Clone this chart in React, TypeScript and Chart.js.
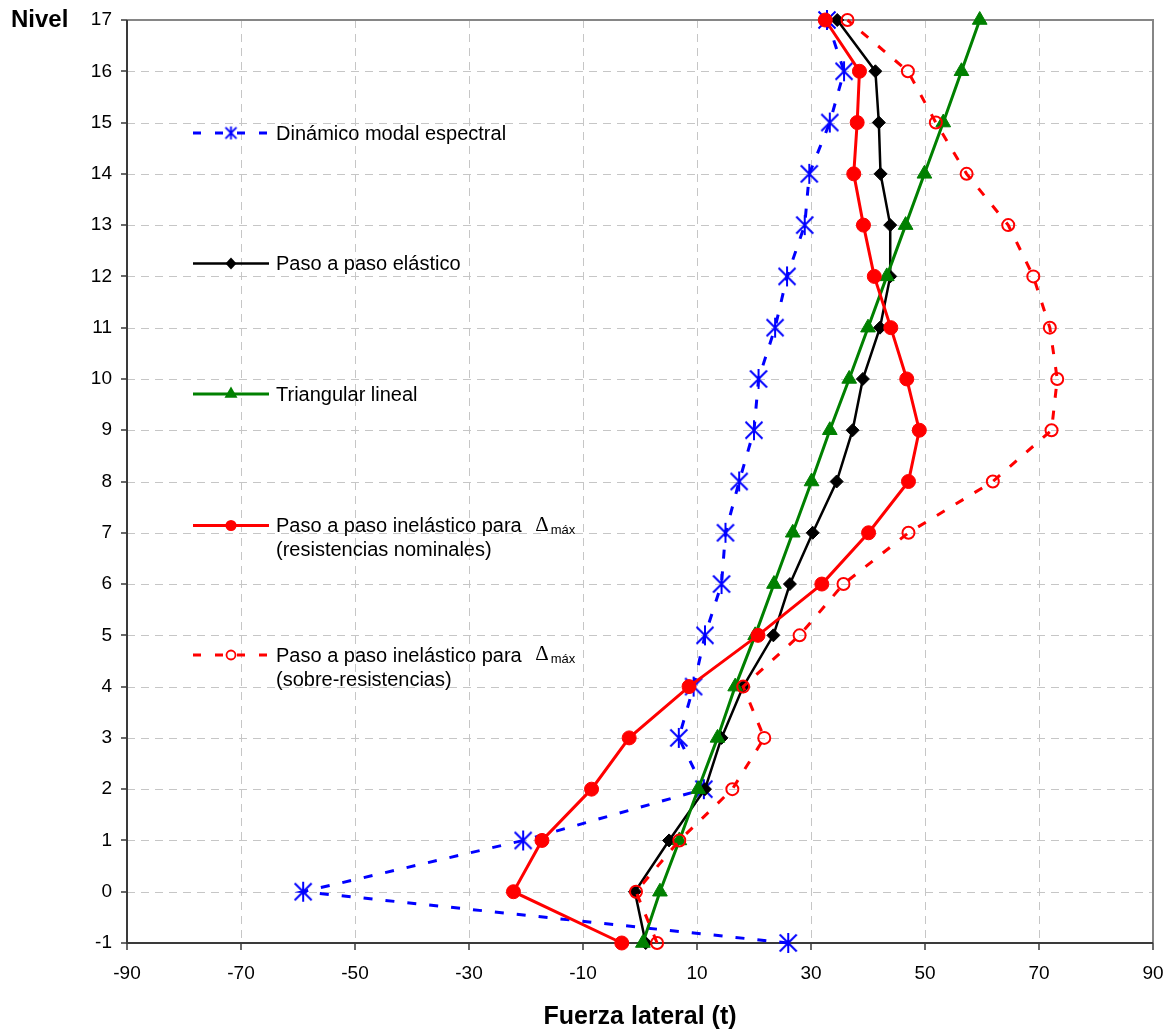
import React, { useEffect, useRef } from "react";
import { Chart, registerables } from "chart.js";

Chart.register(...registerables);

// ---- data ----
const levels = [-1, 0, 1, 2, 3, 4, 5, 6, 7, 8, 9, 10, 11, 12, 13, 14, 15, 16, 17];
const xTickValues = [-90, -70, -50, -30, -10, 10, 30, 50, 70, 90];

const dinamicoModal = [26, -59.1, -20.5, 11.2, 6.8, 9.4, 11.4, 14.3, 15, 17.4, 20, 20.8, 23.7, 25.8, 28.9, 29.7, 33.3, 35.8, 32.8];
const pasoElastico = [1.0, -0.9, 5.1, 11.4, 14.3, 18.1, 23.4, 26.3, 30.3, 34.5, 37.3, 39.1, 42.1, 43.9, 43.9, 42.2, 41.9, 41.3, 34.6];
const triangularLineal = [0.5, 3.5, 6.9, 10.2, 13.6, 16.7, 20.2, 23.5, 26.8, 30.1, 33.3, 36.7, 40.0, 43.3, 46.6, 49.9, 53.2, 56.4, 59.6];
const inelasticoNominal = [-3.2, -22.2, -17.2, -8.5, -1.9, 8.6, 20.7, 31.9, 40.1, 47.1, 49.0, 46.8, 44.0, 41.1, 39.2, 37.5, 38.1, 38.5, 32.5];
const inelasticoSobre = [3.0, -0.7, 6.9, 16.2, 21.8, 18.1, 28.0, 35.7, 47.1, 61.9, 72.2, 73.2, 71.9, 69.0, 64.6, 57.3, 51.9, 47.0, 36.4];

const seriesNames = [
  "Dinámico modal espectral",
  "Paso a paso elástico",
  "Triangular lineal",
  "Paso a paso inelástico para",
  "Paso a paso inelástico para",
];
const secondLines = ["", "", "", "(resistencias nominales)", "(sobre-resistencias)"];
const xTitle = "Fuerza lateral (t)";
const yTitle = "Nivel";

const SANS = "'Liberation Sans', Arial, sans-serif";
const SERIF = "'Liberation Serif', 'DejaVu Serif', serif";

function makeStar(size: number, lw: number): HTMLCanvasElement {
  const c = document.createElement("canvas");
  const full = Math.ceil(size * 2 + 4);
  c.width = full;
  c.height = full;
  const g = c.getContext("2d")!;
  const m = full / 2;
  g.strokeStyle = "#0000ff";
  g.lineWidth = lw;
  g.beginPath();
  g.moveTo(m, m - size);
  g.lineTo(m, m + size);
  g.moveTo(m - size * 0.85, m - size * 0.85);
  g.lineTo(m + size * 0.85, m + size * 0.85);
  g.moveTo(m + size * 0.85, m - size * 0.85);
  g.lineTo(m - size * 0.85, m + size * 0.85);
  g.stroke();
  return c;
}

const mk = (vals: number[]) => levels.map((l, i) => ({ x: vals[i], y: l }));

const zeroPad = (s: any) => {
  s.paddingTop = 0;
  s.paddingBottom = 0;
  s.paddingLeft = 0;
  s.paddingRight = 0;
};

export default function App() {
  const ref = useRef<HTMLCanvasElement | null>(null);

  useEffect(() => {
    document.body.style.margin = "0";
    const canvas = ref.current!;
    const star = makeStar(10, 2);
    const starSmall = makeStar(6.5, 1.8);

    const decor = {
      id: "decor",
      beforeDatasetsDraw(chart: any) {
        const { ctx, chartArea } = chart;
        const { left, right, top, bottom } = chartArea;
        const xs = chart.scales.x;
        const ys = chart.scales.y;
        ctx.save();
        // dashed grid
        ctx.strokeStyle = "#c6c6c6";
        ctx.lineWidth = 1;
        ctx.setLineDash([8, 6]);
        ctx.beginPath();
        for (const v of xTickValues) {
          if (v === -90 || v === 90) continue;
          const px = Math.round(xs.getPixelForValue(v)) + 0.5;
          ctx.moveTo(px, top);
          ctx.lineTo(px, bottom);
        }
        for (const l of levels) {
          if (l === -1 || l === 17) continue;
          const py = Math.round(ys.getPixelForValue(l)) + 0.5;
          ctx.moveTo(left, py);
          ctx.lineTo(right, py);
        }
        ctx.stroke();
        ctx.setLineDash([]);
        // top & right border
        ctx.strokeStyle = "#868686";
        ctx.lineWidth = 2;
        ctx.beginPath();
        ctx.moveTo(left, top);
        ctx.lineTo(right, top);
        ctx.lineTo(right, bottom);
        ctx.stroke();
        // axes
        ctx.strokeStyle = "#3a3a3a";
        ctx.lineWidth = 2;
        ctx.beginPath();
        ctx.moveTo(left, top);
        ctx.lineTo(left, bottom);
        ctx.lineTo(right, bottom);
        ctx.stroke();
        // tick marks
        ctx.lineWidth = 1.5;
        ctx.beginPath();
        for (const l of levels) {
          const py = Math.round(ys.getPixelForValue(l));
          ctx.moveTo(left - 6, py);
          ctx.lineTo(left, py);
        }
        for (const v of xTickValues) {
          const px = Math.round(xs.getPixelForValue(v));
          ctx.moveTo(px, bottom);
          ctx.lineTo(px, bottom + 7);
        }
        ctx.stroke();
        ctx.restore();
      },
      afterDraw(chart: any) {
        const { ctx, chartArea } = chart;
        ctx.save();
        // Titles
        ctx.fillStyle = "#000";
        ctx.font = `bold 24px ${SANS}`;
        ctx.textAlign = "left";
        ctx.textBaseline = "alphabetic";
        ctx.fillText(yTitle, 11, 27);
        ctx.font = `bold 25px ${SANS}`;
        ctx.textAlign = "center";
        ctx.fillText(xTitle, (chartArea.left + chartArea.right) / 2, 1024);

        // Legend
        const rows = [133, 263.5, 394, 525.5, 655];
        const x0 = 193, x1 = 269, xm = 231, tx = 276;
        const drawSample = (i: number, y: number) => {
          ctx.save();
          ctx.lineWidth = 3;
          if (i === 0) { ctx.strokeStyle = "#0000ff"; ctx.setLineDash([8, 14]); }
          if (i === 1) { ctx.strokeStyle = "#000"; ctx.lineWidth = 2.5; }
          if (i === 2) ctx.strokeStyle = "#008000";
          if (i === 3) ctx.strokeStyle = "#ff0000";
          if (i === 4) { ctx.strokeStyle = "#ff0000"; ctx.setLineDash([8, 14]); }
          ctx.beginPath();
          ctx.moveTo(x0, y);
          ctx.lineTo(x1, y);
          ctx.stroke();
          ctx.setLineDash([]);
          if (i === 0) {
            ctx.drawImage(starSmall, xm - starSmall.width / 2, y - starSmall.height / 2);
          } else if (i === 1) {
            ctx.fillStyle = "#000";
            ctx.beginPath();
            ctx.moveTo(xm - 5.5, y); ctx.lineTo(xm, y - 6); ctx.lineTo(xm + 5.5, y); ctx.lineTo(xm, y + 6);
            ctx.closePath(); ctx.fill();
          } else if (i === 2) {
            ctx.fillStyle = "#008000";
            const r = 7.5;
            ctx.beginPath();
            ctx.moveTo(xm, y - r); ctx.lineTo(xm + r * 0.866, y + r * 0.5); ctx.lineTo(xm - r * 0.866, y + r * 0.5);
            ctx.closePath(); ctx.fill();
          } else if (i === 3) {
            ctx.fillStyle = "#ff0000";
            ctx.beginPath(); ctx.arc(xm, y, 5.5, 0, Math.PI * 2); ctx.fill();
          } else {
            ctx.fillStyle = "#fff";
            ctx.strokeStyle = "#ff0000"; ctx.lineWidth = 1.8;
            ctx.beginPath(); ctx.arc(xm, y, 4.5, 0, Math.PI * 2); ctx.fill(); ctx.stroke();
          }
          ctx.restore();
        };
        for (let i = 0; i < seriesNames.length; i++) {
          const y = rows[i];
          drawSample(i, y);
          ctx.fillStyle = "#000";
          ctx.font = `20px ${SANS}`;
          ctx.textAlign = "left";
          ctx.textBaseline = "middle";
          ctx.fillText(seriesNames[i], tx, y + 1);
          if (i >= 3) {
            const w = ctx.measureText(seriesNames[i] + " ").width;
            const dx = tx + w + 8;
            ctx.font = `21px ${SERIF}`;
            ctx.textBaseline = "alphabetic";
            ctx.fillText("Δ", dx, y + 5);
            const dw = ctx.measureText("Δ").width;
            ctx.font = `13px ${SANS}`;
            ctx.fillText("máx", dx + dw + 2, y + 8);
            ctx.font = `20px ${SANS}`;
            ctx.textBaseline = "middle";
            ctx.fillText(secondLines[i], tx, y + 25);
          }
        }
        ctx.restore();
      },
    };

    const common = { showLine: true, clip: false as any, tension: 0 };

    const chart = new Chart(canvas, {
      type: "scatter",
      data: {
        datasets: [
          {
            ...common,
            label: seriesNames[0],
            data: mk(dinamicoModal),
            borderColor: "#0000ff",
            backgroundColor: "#0000ff",
            borderWidth: 3,
            borderDash: [9, 13],
            pointStyle: star as any,
            pointRadius: 10,
            order: 5,
          },
          {
            ...common,
            label: seriesNames[1],
            data: mk(pasoElastico),
            borderColor: "#000000",
            backgroundColor: "#000000",
            borderWidth: 2.5,
            pointStyle: "rectRot",
            pointRadius: 6.5,
            pointBorderWidth: 1,
            order: 4,
          },
          {
            ...common,
            label: seriesNames[2],
            data: mk(triangularLineal),
            borderColor: "#008000",
            backgroundColor: "#008000",
            borderWidth: 3,
            pointStyle: "triangle",
            pointRadius: 8.5,
            pointBorderWidth: 1,
            order: 3,
          },
          {
            ...common,
            label: seriesNames[3] + " Δmáx (resistencias nominales)",
            data: mk(inelasticoNominal),
            borderColor: "#ff0000",
            backgroundColor: "#ff0000",
            borderWidth: 3,
            pointStyle: "circle",
            pointRadius: 7,
            pointBorderWidth: 1,
            order: 2,
          },
          {
            ...common,
            label: seriesNames[4] + " Δmáx (sobre-resistencias)",
            data: mk(inelasticoSobre),
            borderColor: "#ff0000",
            backgroundColor: "rgba(0,0,0,0)",
            pointBackgroundColor: "rgba(0,0,0,0)",
            borderWidth: 3,
            borderDash: [9, 13],
            pointStyle: "circle",
            pointRadius: 6,
            pointBorderWidth: 2,
            order: 1,
          },
        ] as any,
      },
      options: {
        responsive: false,
        animation: false,
        events: [],
        layout: { autoPadding: false, padding: { top: 20, right: 17, bottom: 0, left: 0 } },
        plugins: {
          legend: { display: false },
          tooltip: { enabled: false },
        },
        scales: {
          x: {
            type: "linear",
            min: -90,
            max: 90,
            grid: { display: false, drawTicks: false, tickLength: 0 },
            border: { display: false },
            ticks: {
              stepSize: 20,
              autoSkip: false,
              maxRotation: 0,
              padding: 19,
              color: "#000",
              font: { family: SANS, size: 19 },
            },
            afterBuildTicks: (s: any) => {
              s.ticks = xTickValues.map((v) => ({ value: v }));
            },
            afterFit: (s: any) => {
              s.height = 91;
              zeroPad(s);
            },
          },
          y: {
            type: "linear",
            min: -1,
            max: 17,
            grid: { display: false, drawTicks: false, tickLength: 0 },
            border: { display: false },
            ticks: {
              stepSize: 1,
              autoSkip: false,
              padding: 15,
              color: "#000",
              font: { family: SANS, size: 19 },
            },
            afterBuildTicks: (s: any) => {
              s.ticks = levels.map((v) => ({ value: v }));
            },
            afterFit: (s: any) => {
              s.width = 127;
              zeroPad(s);
            },
          },
        },
      } as any,
      plugins: [decor],
    });
    return () => chart.destroy();
  }, []);

  return (
    <div style={{ position: "absolute", left: 0, top: 0, width: 1170, height: 1034, background: "#fff" }}>
      <canvas ref={ref} width={1170} height={1034} style={{ display: "block", width: 1170, height: 1034 }} />
    </div>
  );
}
